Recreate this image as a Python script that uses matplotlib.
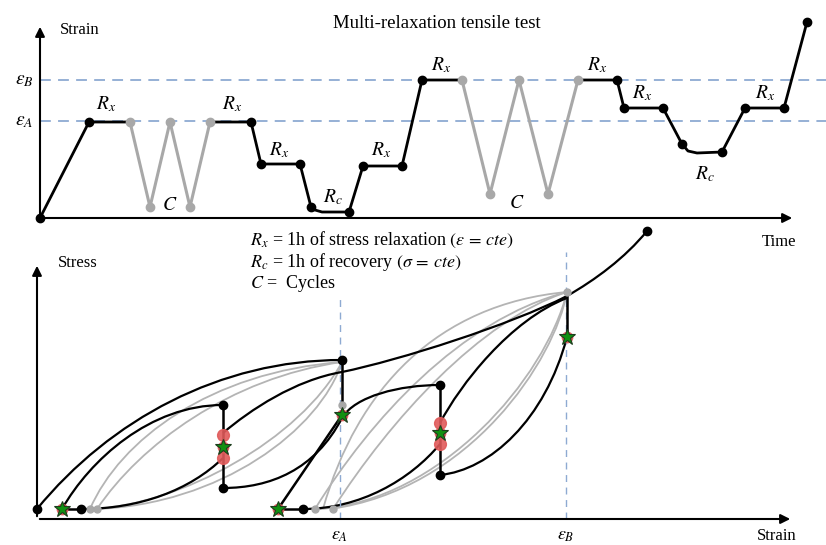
import matplotlib.pyplot as plt
from matplotlib.path import Path
from matplotlib.patches import PathPatch

plt.rcParams['font.family'] = 'Liberation Serif'
plt.rcParams['mathtext.fontset'] = 'stix'

# ---------------- top panel: strain vs time (arbitrary units)
eps_A_top = 97
eps_B_top = 138

time_b1 = [0, 49, 90]
strain_b1 = [0, 96, 96]
time_g1 = [90, 110, 130, 150, 170]
strain_g1 = [96, 11, 96, 11, 96]
time_b2 = [170, 211, 221, 260, 271, 275, 282, 309, 323, 362, 382, 422]
strain_b2 = [96, 96, 54, 54, 11, 8, 6, 6, 52, 52, 138, 138]
time_g2 = [422, 450, 479, 508, 538]
strain_g2 = [138, 24, 138, 24, 138]
time_b3 = [538, 577, 584, 623, 642, 648, 657, 682, 705, 744, 767]
strain_b3 = [138, 138, 110, 110, 74, 67, 65, 66, 110, 110, 196]

dots_t = [0, 49, 211, 221, 260, 271, 309, 323, 362, 382, 577, 584, 623, 642, 682, 705, 744, 767]
dots_s = [0, 96, 96, 54, 54, 11, 6, 52, 52, 138, 138, 110, 110, 74, 66, 110, 110, 196]
gdots_t = [90, 110, 130, 150, 170, 422, 450, 479, 508, 538]
gdots_s = [96, 11, 96, 11, 96, 138, 24, 138, 24, 138]

labels_top = [r'$R_x$', r'$R_x$', r'$R_x$', r'$R_x$', r'$R_c$', r'$C$',
              r'$R_x$', r'$R_x$', r'$R_x$', r'$R_x$', r'$R_c$', r'$C$']
labels_t = [66, 192, 239, 341, 293, 130, 401, 557, 602, 725, 665, 477]
labels_s = [114, 114, 68, 68, 21, 12, 153, 153, 125, 125, 44, 14]

# ---------------- bottom panel: stress vs strain (arbitrary units)
eps_A = 303
eps_B = 529

# black cubic bezier curves (start, ctrl, ctrl, end, ...)
env_first = [(0, 10), (73, 99), (183, 159), (305, 159)]
load_1 = [(25, 10), (53, 59), (113, 114), (186, 114)]
reload_1 = [(44, 10), (103, 10), (153, 29), (186, 61)]
monotonic = [(186, 86), (213, 109), (258, 139), (305, 147), (363, 159), (473, 194),
             (530, 223), (558, 239), (588, 261), (610, 288)]
load_2 = [(186, 31), (233, 31), (278, 49), (305, 101), (318, 123), (363, 134), (403, 134)]
reload_2 = [(266, 10), (323, 10), (373, 39), (403, 75)]
load_3 = [(403, 96), (423, 134), (473, 199), (530, 221)]
reload_3 = [(403, 44), (453, 49), (508, 99), (530, 182)]
black_curves = [env_first, load_1, reload_1, monotonic, load_2, reload_2, load_3, reload_3]

# grey cycles
grey_curves = [
    [(53, 10), (83, 79), (173, 147), (305, 157)],
    [(60, 10), (103, 74), (193, 141), (305, 157)],
    [(305, 157), (283, 89), (183, 14), (58, 10)],
    [(305, 157), (263, 79), (143, 14), (55, 10)],
    [(278, 10), (333, 99), (423, 199), (530, 227)],
    [(296, 10), (353, 99), (443, 199), (530, 227)],
    [(286, 10), (320, 130), (400, 215), (530, 227)],
    [(530, 227), (508, 139), (403, 19), (283, 10)],
    [(530, 227), (518, 159), (433, 29), (293, 10)],
]

# straight black pieces
segments = [
    ([305, 305], [159, 104]),
    ([305, 241], [104, 10]),
    ([25, 44], [10, 10]),
    ([241, 266], [10, 10]),
    ([186, 186], [114, 31]),
    ([403, 403], [134, 44]),
    ([530, 530], [224, 182]),
]

bdots_e = [0, 44, 186, 186, 305, 266, 403, 403, 610]
bdots_s = [10, 10, 114, 31, 159, 10, 134, 44, 288]
stars_e = [25, 241, 305, 530, 186, 403]
stars_s = [10, 10, 104, 182, 72, 86]
red_e = [186, 186, 403, 403]
red_s = [84, 61, 96, 75]
grey_e = [53, 60, 278, 296, 305, 530]
grey_s = [10, 10, 10, 10, 114, 227]


def bez(ax, pts, **kw):
    codes = [Path.MOVETO] + [Path.CURVE4] * (len(pts) - 1)
    ax.add_patch(PathPatch(Path(pts, codes), fill=False, clip_on=False, **kw))


fig = plt.figure(figsize=(8.26, 5.45), dpi=100)
dash_c = '#8eaad2'

# ---- top
ax = fig.add_axes([0, 1 - 230 / 545, 1, 230 / 545])
ax.set_xlim(-40, 786)
ax.set_ylim(-12, 218)
ax.axis('off')
ax.annotate('', xy=(755, 0), xytext=(0, 0),
            arrowprops=dict(arrowstyle='-|>', lw=1.5, color='k', mutation_scale=14))
ax.annotate('', xy=(0, 194), xytext=(0, 0),
            arrowprops=dict(arrowstyle='-|>', lw=1.5, color='k', mutation_scale=14))
ax.axhline(eps_B_top, xmin=40 / 826, color=dash_c, lw=1.3, dashes=(6, 4))
ax.axhline(eps_A_top, xmin=40 / 826, color=dash_c, lw=1.3, dashes=(6, 4))
ax.plot(time_g1, strain_g1, color='#a8a8a8', lw=2.2)
ax.plot(time_g2, strain_g2, color='#a8a8a8', lw=2.2)
ax.plot(time_b1, strain_b1, color='k', lw=2)
ax.plot(time_b2, strain_b2, color='k', lw=2)
ax.plot(time_b3, strain_b3, color='k', lw=2)
ax.plot(gdots_t, gdots_s, 'o', color='#a8a8a8', ms=6, clip_on=False)
ax.plot(dots_t, dots_s, 'o', color='k', ms=6, clip_on=False)
for lab, t, s in zip(labels_top, labels_t, labels_s):
    ax.text(t, s, lab, fontsize=14, ha='center', va='center')
ax.text(-16, eps_B_top, r'$\varepsilon_B$', fontsize=14, ha='center', va='center')
ax.text(-16, eps_A_top, r'$\varepsilon_A$', fontsize=14, ha='center', va='center')
ax.text(20, 188, 'Strain', fontsize=12, va='center')
ax.text(397, 195, 'Multi-relaxation tensile test', fontsize=13.5, ha='center', va='center')
ax.text(722, -24, 'Time', fontsize=12, va='center')

# ---- bottom
bx = fig.add_axes([0, 0, 1, 315 / 545])
bx.set_xlim(-37, 789)
bx.set_ylim(-26, 289)
bx.axis('off')
bx.annotate('', xy=(756, 0), xytext=(0, 0),
            arrowprops=dict(arrowstyle='-|>', lw=1.5, color='k', mutation_scale=14))
bx.annotate('', xy=(0, 256), xytext=(0, 0),
            arrowprops=dict(arrowstyle='-|>', lw=1.5, color='k', mutation_scale=14))
bx.plot([eps_A, eps_A], [0, 221], color=dash_c, lw=1, dashes=(5, 4))
bx.plot([eps_B, eps_B], [0, 267], color=dash_c, lw=1, dashes=(5, 4))
for c in grey_curves:
    bez(bx, c, color='#b4b4b4', lw=1.3)
for c in black_curves:
    bez(bx, c, color='k', lw=1.6)
for xs, ys in segments:
    bx.plot(xs, ys, color='k', lw=1.8)
bx.plot(grey_e, grey_s, 'o', color='#a8a8a8', ms=5)
bx.plot(bdots_e, bdots_s, 'o', color='k', ms=6, clip_on=False)
bx.plot(red_e, red_s, 'o', color='#e05a5a', ms=8.5, alpha=0.9)
bx.plot(stars_e, stars_s, 'o', color='#e05a5a', ms=7.5, alpha=0.9)
bx.plot(stars_e, stars_s, '*', color='#119011', mec='#1d3d1d', mew=0.8, ms=12)
bx.text(eps_A, -16, r'$\varepsilon_A$', fontsize=13, ha='center', va='center')
bx.text(eps_B, -16, r'$\varepsilon_B$', fontsize=13, ha='center', va='center')
bx.text(720, -17, 'Strain', fontsize=12, va='center')
bx.text(21, 256, 'Stress', fontsize=12, va='center')
bx.text(213, 279, r'$R_x$ = 1h of stress relaxation $(\varepsilon\,=\,cte)$', fontsize=13, va='center')
bx.text(213, 257, r'$R_c$ = 1h of recovery $(\sigma\,=\,cte)$', fontsize=13, va='center')
bx.text(213, 235, r'$C$ =  Cycles', fontsize=13, va='center')

fig.savefig('out.png', dpi=100)
